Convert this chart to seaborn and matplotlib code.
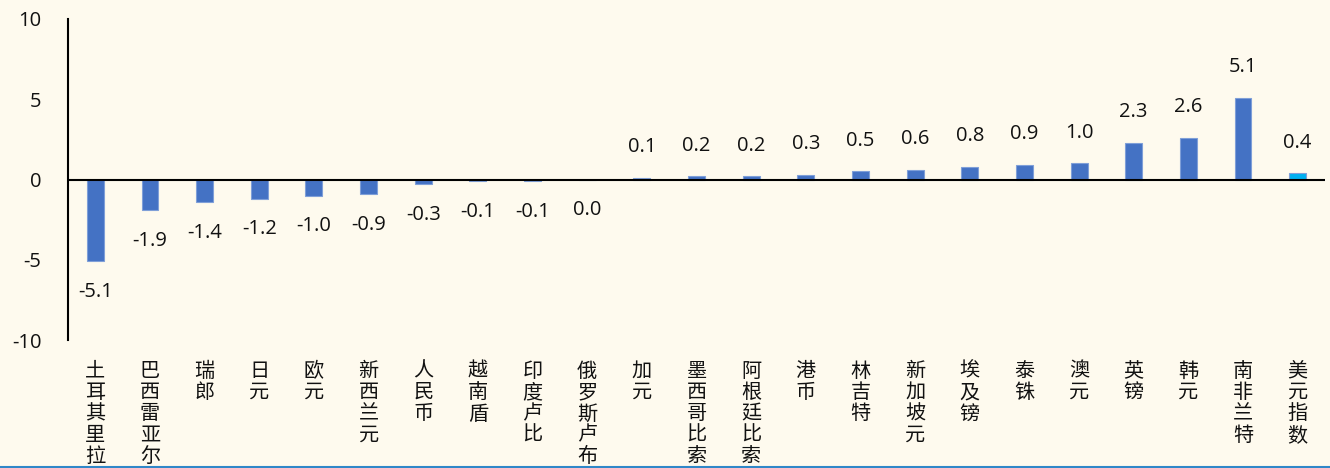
import matplotlib
matplotlib.use("Agg")
import matplotlib.pyplot as plt
import seaborn as sns
import pandas as pd
from matplotlib.lines import Line2D

categories = ["土耳其里拉", "巴西雷亚尔", "瑞郎", "日元", "欧元", "新西兰元", "人民币",
              "越南盾", "印度卢比", "俄罗斯卢布", "加元", "墨西哥比索", "阿根廷比索",
              "港币", "林吉特", "新加坡元", "埃及镑", "泰铢", "澳元", "英镑", "韩元",
              "南非兰特", "美元指数"]
values = [-5.1, -1.9, -1.4, -1.2, -1.0, -0.9, -0.3, -0.1, -0.1, 0.0, 0.1, 0.2, 0.2,
          0.3, 0.5, 0.6, 0.8, 0.9, 1.0, 2.3, 2.6, 5.1, 0.4]
y_ticks = [-10, -5, 0, 5, 10]

bg = "#FEFAEE"
bar_color = "#4472C4"
highlight = "#00B0F0"
num_font = ["Open Sans", "DejaVu Sans"]

sns.set_theme(style="white")
plt.rcParams["font.family"] = ["Noto Sans CJK SC", "DejaVu Sans"]

df = pd.DataFrame({"cat": categories, "val": values})
palette = {c: (highlight if c == "美元指数" else bar_color) for c in categories}

fig = plt.figure(figsize=(13.3, 4.68), dpi=100, facecolor=bg)
ax = fig.add_axes([68 / 1330, 1 - 340 / 468, (1325 - 68) / 1330, (340 - 19) / 468])
ax.set_facecolor(bg)

sns.barplot(data=df, x="cat", y="val", hue="cat", palette=palette, legend=False,
            width=0.31, ax=ax, saturation=1, edgecolor="#7F9FD8", linewidth=0.8)

ax.set_xlim(-0.5, len(categories) - 0.5)
ax.set_ylim(-10, 10)
ax.set_yticks(y_ticks)
ax.set_yticklabels([str(t) for t in y_ticks], fontsize=14.5, color="#111111",
                   family=num_font)
ax.tick_params(axis="y", direction="out", length=5, width=1.5, color="black", pad=14)

ax.set_xticks(range(len(categories)))
ax.set_xticklabels(["\n".join(c) for c in categories], fontsize=14.5, color="#111111",
                   va="top", linespacing=1.02)
ax.tick_params(axis="x", length=0, pad=15)
ax.set_xlabel("")
ax.set_ylabel("")

for s in ["top", "right", "bottom"]:
    ax.spines[s].set_visible(False)
ax.spines["left"].set_color("black")
ax.spines["left"].set_linewidth(1.5)
ax.axhline(0, color="black", lw=1.5, zorder=3)

for i, v in enumerate(values):
    off = 22 if v > 0 else -22
    ax.annotate(f"{v:.1f}", (i, v), xytext=(0, off), textcoords="offset points",
                ha="center", va="center", fontsize=14.5, color="#111111",
                family=num_font)

fig.add_artist(Line2D([0, 1], [1.5 / 468, 1.5 / 468], transform=fig.transFigure,
                      color="#2F87C8", lw=1.5))

fig.savefig("out.png", dpi=100, facecolor=bg)
